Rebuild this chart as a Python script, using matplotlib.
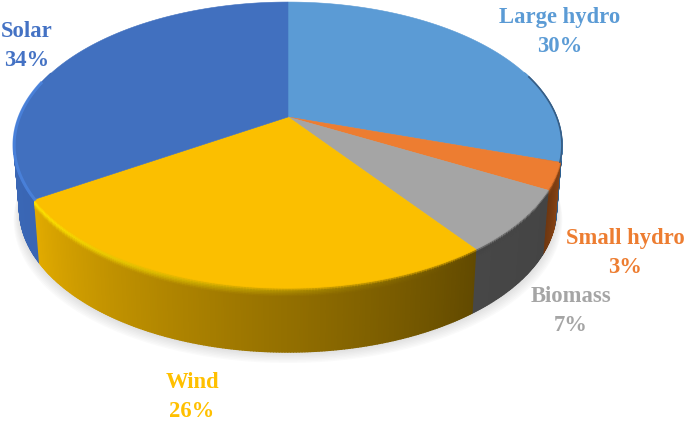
import numpy as np
import matplotlib
matplotlib.use("Agg")
import matplotlib.pyplot as plt
from matplotlib.collections import PolyCollection
from matplotlib.colors import to_rgb

# shares in clockwise order, starting at 12 o'clock
labels = ["Large hydro", "Small hydro", "Biomass", "Wind", "Solar"]
values = [30, 3, 7, 26, 34]

top_colors = ["#5b9bd5", "#ed7d31", "#a5a5a5", "#fbbf00", "#4170bf"]
text_colors = ["#5b9bd5", "#ed7d31", "#a5a5a5", "#ffc000", "#4472c4"]
# side wall colour at the start and at the end of each slice
side_start = ["#2d5f8f", "#8a4515", "#444444", "#624a00", "#3a66b4"]
side_end = ["#2d5f8f", "#6e3710", "#474747", "#e2ab00", "#3f6ebd"]
bevel_hi = ["#2d5f8f", "#8a4515", "#444444", "#ffe800", "#4a80d8"]

# label centres in pixels
label_xy = [(560, 32), (625, 253), (571, 311), (192, 397), (27, 46)]

# fake perspective of the pie, in pixels
CX, CY = 288, 117
A, P, K = 268.6, 137.5, 0.196
DEPTH = 64
BOTTOM_SCALE = 0.98
BEVEL = 9


def project(theta, bottom=False):
    # theta in degrees clockwise from the top
    t = np.radians(theta)
    u, v = np.sin(t), np.cos(t)
    d = 1 + K * v
    x, y = A * u / d, -P * v / d
    if bottom:
        return CX + BOTTOM_SCALE * x, CY + y + DEPTH
    return CX + x, CY + y


def mix(a, b, t):
    a, b = np.array(to_rgb(a)), np.array(to_rgb(b))
    return tuple(a + (b - a) * t)


fig = plt.figure(figsize=(6.85, 4.23), dpi=100)
ax = fig.add_axes([0, 0, 1, 1])
ax.set_xlim(0, 685)
ax.set_ylim(423, 0)
ax.axis("off")

bounds = np.concatenate([[0], np.cumsum(values)]) * 3.6

# soft shadow under the pie
all_theta = np.linspace(0, 360, 361)
bx, by = project(all_theta, bottom=True)
for grow in np.linspace(11, 1, 8):
    ax.fill(CX + (bx - CX) * (1 + grow / 500), by + grow, color="#8a8a8a",
            alpha=0.035, lw=0, zorder=1)

# side wall, back strips first so the front ones land on top
polys, cols = [], []
strips = []
for i in range(len(values)):
    n = max(int((bounds[i + 1] - bounds[i]) * 2), 2)
    edges = np.linspace(bounds[i], bounds[i + 1], n + 1)
    for j in range(n):
        strips.append((i, edges[j], edges[j + 1], (j + 0.5) / n))
strips = [s for s in strips if 70 < (s[1] + s[2]) / 2 < 290]
strips.sort(key=lambda s: -abs((s[1] + s[2]) / 2 - 180))


def band(xa, ya, xb, yb, g0, g1):
    # quad on the wall between two depth fractions
    return [(xa[0] + (xb[0] - xa[0]) * g0, ya[0] + (yb[0] - ya[0]) * g0),
            (xa[1] + (xb[1] - xa[1]) * g0, ya[1] + (yb[1] - ya[1]) * g0),
            (xa[1] + (xb[1] - xa[1]) * g1, ya[1] + (yb[1] - ya[1]) * g1),
            (xa[0] + (xb[0] - xa[0]) * g1, ya[0] + (yb[0] - ya[0]) * g1)]


for i, t0, t1, f in strips:
    xa, ya = project(np.array([t0, t1]))
    xb, yb = project(np.array([t0, t1]), bottom=True)
    side = mix(side_start[i], side_end[i], f)
    hi = mix(side, bevel_hi[i], f ** 1.5)
    # bevel just below the rim, then the plain wall
    steps = np.linspace(0, BEVEL, 7)
    for s0, s1 in zip(steps[:-1], steps[1:]):
        m = (s0 + s1) / 2 / BEVEL
        c = mix(top_colors[i], hi, m / 0.4) if m < 0.4 else mix(hi, side, (m - 0.4) / 0.6)
        polys.append(band(xa, ya, xb, yb, s0 / DEPTH, s1 / DEPTH))
        cols.append(c)
    polys.append(band(xa, ya, xb, yb, BEVEL / DEPTH, 1))
    cols.append(side)

ax.add_collection(PolyCollection(polys, facecolors=cols, edgecolors=cols, linewidths=1.0, zorder=2))

# top face
for i in range(len(values)):
    th = np.linspace(bounds[i], bounds[i + 1], 200)
    x, y = project(th)
    ax.fill(np.r_[CX, x], np.r_[CY, y], color=top_colors[i], lw=0.4, zorder=3)

# rim details: dark edge on the right, lighter band on the lower left
th = np.linspace(72, bounds[1], 60)
ax.plot(*project(th), color="#2f4f72", lw=1.2, alpha=0.8, zorder=4)
th = np.linspace(bounds[4], 285, 60)
ax.plot(*project(th), color="#4a82dc", lw=2.2, alpha=0.9, zorder=4)

for name, val, col, (lx, ly) in zip(labels, values, text_colors, label_xy):
    ax.text(lx, ly, f"{name}\n{val}%", color=col, ha="center", va="center",
            family="Liberation Serif", fontweight="bold", fontsize=16.3,
            linespacing=1.49, zorder=5)

fig.savefig("out.png", dpi=100)
